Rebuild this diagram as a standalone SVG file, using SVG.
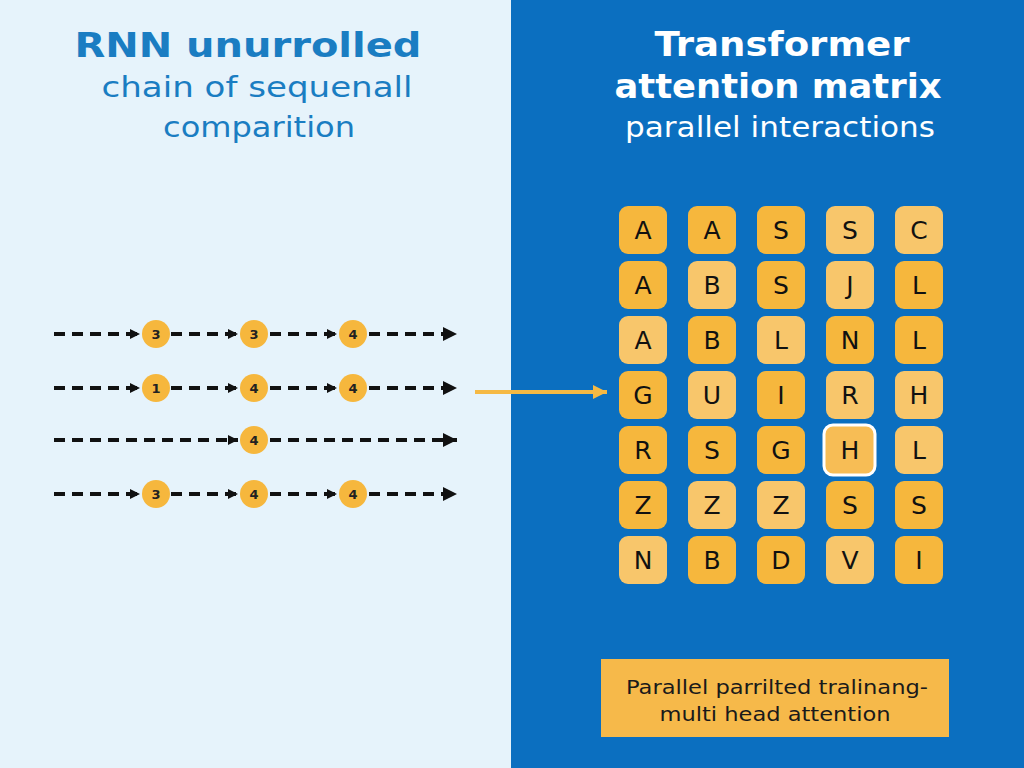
<svg xmlns="http://www.w3.org/2000/svg" width="1024" height="768" viewBox="0 0 1024 768">
<defs>
<style>
.t1{font-family:"DejaVu Sans","Liberation Sans",sans-serif;font-weight:700;font-size:34px;text-anchor:middle}
.t2{font-family:"DejaVu Sans","Liberation Sans",sans-serif;font-size:28px;text-anchor:middle}
.d{fill:#f6b73d}
.l{fill:#f8c66b}
.tl{font-family:"DejaVu Sans","Liberation Sans",sans-serif;font-size:25px;fill:#111;text-anchor:middle;dominant-baseline:central}
.dash{stroke:#111;stroke-width:4;stroke-dasharray:11 7;fill:none}
.node circle{fill:#f6b73d}
.node text{font-family:"DejaVu Sans","Liberation Sans",sans-serif;font-weight:700;font-size:13px;fill:#222;text-anchor:middle;dominant-baseline:central}
.nt{font-family:"DejaVu Sans","Liberation Sans",sans-serif;font-size:20px;fill:#1a1a1a;text-anchor:middle}
</style>
<marker id="ah" viewBox="0 0 10 10" refX="10" refY="5" markerWidth="10" markerHeight="12" markerUnits="userSpaceOnUse" orient="auto"><path d="M0,0L10,5L0,10z" fill="#111"/></marker>
<marker id="ahe" viewBox="0 0 12 12" refX="12" refY="6" markerWidth="14" markerHeight="15" markerUnits="userSpaceOnUse" orient="auto"><path d="M0,0L12,6L0,12z" fill="#111"/></marker>
<marker id="oh" viewBox="0 0 12 12" refX="12" refY="6" markerWidth="14" markerHeight="16" markerUnits="userSpaceOnUse" orient="auto"><path d="M0,0L12,6L0,12z" fill="#f5b944"/></marker>
</defs>
<rect x="0" y="0" width="512" height="768" fill="#e6f3fb"/>
<rect x="511" y="0" width="513" height="768" fill="#0b6fc0"/>
<g id="titles">
<text class="t1" x="248" y="57" fill="#1a7dc2" textLength="347" lengthAdjust="spacingAndGlyphs">RNN unurrolled</text>
<text class="t2" x="257" y="97" fill="#1a7dc2" textLength="311" lengthAdjust="spacingAndGlyphs">chain of sequenall</text>
<text class="t2" x="259" y="137" fill="#1a7dc2" textLength="192" lengthAdjust="spacingAndGlyphs">comparition</text>
<text class="t1" x="782" y="56" fill="#ffffff" textLength="255" lengthAdjust="spacingAndGlyphs">Transformer</text>
<text class="t1" x="778" y="98" fill="#ffffff" textLength="327" lengthAdjust="spacingAndGlyphs">attention matrix</text>
<text class="t2" x="780" y="137" fill="#ffffff" textLength="310" lengthAdjust="spacingAndGlyphs">parallel interactions</text>
</g>
<g id="connectors">
<line class="dash" x1="54" y1="334" x2="140" y2="334" marker-end="url(#ah)"/>
<line class="dash" x1="171" y1="334" x2="238" y2="334" marker-end="url(#ah)"/>
<line class="dash" x1="270" y1="334" x2="337" y2="334" marker-end="url(#ah)"/>
<line class="dash" x1="369" y1="334" x2="457" y2="334" marker-end="url(#ahe)"/>
<line class="dash" x1="54" y1="388" x2="140" y2="388" marker-end="url(#ah)"/>
<line class="dash" x1="171" y1="388" x2="238" y2="388" marker-end="url(#ah)"/>
<line class="dash" x1="270" y1="388" x2="337" y2="388" marker-end="url(#ah)"/>
<line class="dash" x1="369" y1="388" x2="457" y2="388" marker-end="url(#ahe)"/>
<line class="dash" x1="54" y1="440" x2="238" y2="440" marker-end="url(#ah)"/>
<line class="dash" x1="270" y1="440" x2="457" y2="440" marker-end="url(#ahe)"/>
<line class="dash" x1="54" y1="494" x2="140" y2="494" marker-end="url(#ah)"/>
<line class="dash" x1="171" y1="494" x2="238" y2="494" marker-end="url(#ah)"/>
<line class="dash" x1="270" y1="494" x2="337" y2="494" marker-end="url(#ah)"/>
<line class="dash" x1="369" y1="494" x2="457" y2="494" marker-end="url(#ahe)"/>
<line x1="475" y1="392" x2="607" y2="392" stroke="#f5b944" stroke-width="4" marker-end="url(#oh)"/>
</g>
<g id="rnn-nodes">
<g class="node" id="n1a"><circle cx="156" cy="334" r="14"/><text x="156" y="334">3</text></g>
<g class="node" id="n1b"><circle cx="254" cy="334" r="14"/><text x="254" y="334">3</text></g>
<g class="node" id="n1c"><circle cx="353" cy="334" r="14"/><text x="353" y="334">4</text></g>
<g class="node" id="n2a"><circle cx="156" cy="388" r="14"/><text x="156" y="388">1</text></g>
<g class="node" id="n2b"><circle cx="254" cy="388" r="14"/><text x="254" y="388">4</text></g>
<g class="node" id="n2c"><circle cx="353" cy="388" r="14"/><text x="353" y="388">4</text></g>
<g class="node" id="n3b"><circle cx="254" cy="440" r="14"/><text x="254" y="440">4</text></g>
<g class="node" id="n4a"><circle cx="156" cy="494" r="14"/><text x="156" y="494">3</text></g>
<g class="node" id="n4b"><circle cx="254" cy="494" r="14"/><text x="254" y="494">4</text></g>
<g class="node" id="n4c"><circle cx="353" cy="494" r="14"/><text x="353" y="494">4</text></g>
</g>
<g id="matrix">
<g id="r1">
<rect class="d" x="619" y="206" width="48" height="48" rx="9"/><text class="tl" x="643" y="230">A</text>
<rect class="d" x="688" y="206" width="48" height="48" rx="9"/><text class="tl" x="712" y="230">A</text>
<rect class="d" x="757" y="206" width="48" height="48" rx="9"/><text class="tl" x="781" y="230">S</text>
<rect class="l" x="826" y="206" width="48" height="48" rx="9"/><text class="tl" x="850" y="230">S</text>
<rect class="l" x="895" y="206" width="48" height="48" rx="9"/><text class="tl" x="919" y="230">C</text>
</g>
<g id="r2">
<rect class="d" x="619" y="261" width="48" height="48" rx="9"/><text class="tl" x="643" y="285">A</text>
<rect class="l" x="688" y="261" width="48" height="48" rx="9"/><text class="tl" x="712" y="285">B</text>
<rect class="d" x="757" y="261" width="48" height="48" rx="9"/><text class="tl" x="781" y="285">S</text>
<rect class="l" x="826" y="261" width="48" height="48" rx="9"/><text class="tl" x="850" y="285">J</text>
<rect class="d" x="895" y="261" width="48" height="48" rx="9"/><text class="tl" x="919" y="285">L</text>
</g>
<g id="r3">
<rect class="l" x="619" y="316" width="48" height="48" rx="9"/><text class="tl" x="643" y="340">A</text>
<rect class="d" x="688" y="316" width="48" height="48" rx="9"/><text class="tl" x="712" y="340">B</text>
<rect class="l" x="757" y="316" width="48" height="48" rx="9"/><text class="tl" x="781" y="340">L</text>
<rect class="d" x="826" y="316" width="48" height="48" rx="9"/><text class="tl" x="850" y="340">N</text>
<rect class="d" x="895" y="316" width="48" height="48" rx="9"/><text class="tl" x="919" y="340">L</text>
</g>
<g id="r4">
<rect class="d" x="619" y="371" width="48" height="48" rx="9"/><text class="tl" x="643" y="395">G</text>
<rect class="l" x="688" y="371" width="48" height="48" rx="9"/><text class="tl" x="712" y="395">U</text>
<rect class="d" x="757" y="371" width="48" height="48" rx="9"/><text class="tl" x="781" y="395">I</text>
<rect class="l" x="826" y="371" width="48" height="48" rx="9"/><text class="tl" x="850" y="395">R</text>
<rect class="l" x="895" y="371" width="48" height="48" rx="9"/><text class="tl" x="919" y="395">H</text>
</g>
<g id="r5">
<rect class="d" x="619" y="426" width="48" height="48" rx="9"/><text class="tl" x="643" y="450">R</text>
<rect class="d" x="688" y="426" width="48" height="48" rx="9"/><text class="tl" x="712" y="450">S</text>
<rect class="d" x="757" y="426" width="48" height="48" rx="9"/><text class="tl" x="781" y="450">G</text>
<rect x="824" y="425" width="51" height="50" rx="9" fill="#f7bd55" stroke="#ffffff" stroke-width="3"/><text class="tl" x="850" y="450">H</text>
<rect class="l" x="895" y="426" width="48" height="48" rx="9"/><text class="tl" x="919" y="450">L</text>
</g>
<g id="r6">
<rect class="d" x="619" y="481" width="48" height="48" rx="9"/><text class="tl" x="643" y="505">Z</text>
<rect class="l" x="688" y="481" width="48" height="48" rx="9"/><text class="tl" x="712" y="505">Z</text>
<rect class="l" x="757" y="481" width="48" height="48" rx="9"/><text class="tl" x="781" y="505">Z</text>
<rect class="d" x="826" y="481" width="48" height="48" rx="9"/><text class="tl" x="850" y="505">S</text>
<rect class="d" x="895" y="481" width="48" height="48" rx="9"/><text class="tl" x="919" y="505">S</text>
</g>
<g id="r7">
<rect class="l" x="619" y="536" width="48" height="48" rx="9"/><text class="tl" x="643" y="560">N</text>
<rect class="d" x="688" y="536" width="48" height="48" rx="9"/><text class="tl" x="712" y="560">B</text>
<rect class="d" x="757" y="536" width="48" height="48" rx="9"/><text class="tl" x="781" y="560">D</text>
<rect class="l" x="826" y="536" width="48" height="48" rx="9"/><text class="tl" x="850" y="560">V</text>
<rect class="d" x="895" y="536" width="48" height="48" rx="9"/><text class="tl" x="919" y="560">I</text>
</g>
</g>
<g id="note">
<rect x="601" y="659" width="348" height="78" fill="#f6b94a"/>
<text class="nt" x="777" y="694" textLength="302" lengthAdjust="spacingAndGlyphs">Parallel parrilted tralinang-</text>
<text class="nt" x="775" y="721" textLength="231" lengthAdjust="spacingAndGlyphs">multi head attention</text>
</g>
</svg>
